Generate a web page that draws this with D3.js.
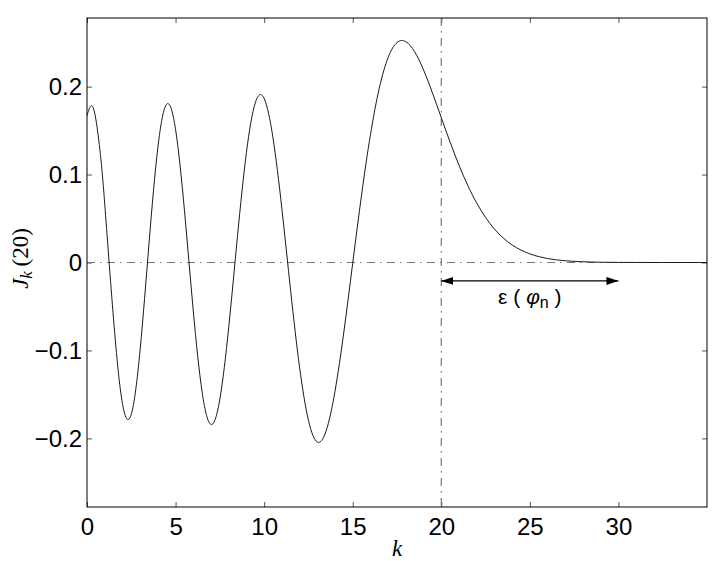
<!DOCTYPE html>
<html>
<head>
<meta charset="utf-8">
<script src="https://cdn.jsdelivr.net/npm/d3@7"></script>
<style>
  html, body { margin: 0; padding: 0; background: #fff; }
  svg { display: block; }
</style>
</head>
<body>
<svg id="chart" width="713" height="561"></svg>
<script>
// ---- data (J_k(20) versus order k) ----
const kValues = [0,0.25,0.5,0.75,1,1.5,2,2.5,3,3.5,4,4.5,5,5.5,6,6.5,7,7.5,8,8.5,9,9.5,
  10,10.5,11,11.5,12,12.5,13,13.5,14,14.5,15,15.5,16,16.5,17,17.5,18,18.5,19,19.5,
  20,20.5,21,21.5,22,22.5,23,23.5,24,24.5,25,25.5,26,26.5,27,27.5,28,28.5,29,29.5,
  30,30.5,31,31.5,32,32.5,33,33.5,34,34.5,35];
const jValues = [0.1670,0.1784,0.1629,0.1240,0.0668,-0.0647,-0.1603,-0.1726,-0.0989,0.0215,0.1307,0.1801,
  0.1512,0.0595,-0.0551,-0.1474,-0.1842,-0.1553,-0.0739,0.0309,0.1251,0.1816,
  0.1865,0.1416,0.0614,-0.0329,-0.1190,-0.1794,-0.2041,-0.1914,-0.1464,-0.0790,
  -0.0008,0.0769,0.1452,0.1982,0.2331,0.2501,0.2511,0.2395,0.2189,0.1929,
  0.1647,0.1368,0.1106,0.0874,0.0676,0.0512,0.0380,0.0278,0.0199,0.0141,
  0.0098,0.0067,0.0045,0.0030,0.0020,0.0013,0.0008,0.0005,0.0003,0.0002,
  0.0001,0.0001,0.00004,0.00002,0.00001,0,0,0,0,0,0];
const xTicks = [0,5,10,15,20,25,30];
const yTicks = [-0.2,-0.1,0,0.1,0.2];
const xDomain = [0, 35];
const yDomain = [-0.278, 0.278];
const markerK = 20;          // vertical dash-dot line
const arrowRange = [20, 30]; // epsilon arrow span
const arrowY = -0.021;

// ---- layout ----
const svg = d3.select("#chart");
const L = 87, R = 707, T = 18, B = 507;
const x = d3.scaleLinear().domain(xDomain).range([L, R]);
const y = d3.scaleLinear().domain(yDomain).range([B, T]);

const tickFont = "'Liberation Sans', Arial, Helvetica, sans-serif";
const serif = "'Liberation Serif', 'Times New Roman', Times, serif";

function styleAxis(g, showText) {
  g.select(".domain").remove();
  g.selectAll(".tick line").attr("stroke", "#555").attr("stroke-width", 1);
  g.selectAll(".tick text")
    .attr("font-family", tickFont).attr("font-size", 24).attr("fill", "#000");
  if (!showText) g.selectAll(".tick text").remove();
}
const fmt = d => d3.format("")(Math.round(d * 10) / 10).replace("-", "\u2212");

svg.append("g").attr("transform", `translate(0,${B})`)
  .call(d3.axisBottom(x).tickValues(xTicks).tickFormat(d3.format("d"))
    .tickSizeInner(-5).tickSizeOuter(0).tickPadding(11))
  .call(g => styleAxis(g, true));
svg.append("g").attr("transform", `translate(0,${T})`)
  .call(d3.axisTop(x).tickValues(xTicks).tickSizeInner(-5).tickSizeOuter(0))
  .call(g => styleAxis(g, false));
svg.append("g").attr("transform", `translate(${L},0)`)
  .call(d3.axisLeft(y).tickValues(yTicks).tickFormat(fmt)
    .tickSizeInner(-5).tickSizeOuter(0).tickPadding(5))
  .call(g => styleAxis(g, true));
svg.append("g").attr("transform", `translate(${R},0)`)
  .call(d3.axisRight(y).tickValues(yTicks).tickSizeInner(-5).tickSizeOuter(0))
  .call(g => styleAxis(g, false));

// dash-dot reference lines
const dash = "8,5,1.5,5.5";
svg.append("line")
  .attr("x1", x(xDomain[0])).attr("x2", x(xDomain[1]))
  .attr("y1", y(0)).attr("y2", y(0))
  .attr("stroke", "#777").attr("stroke-width", 1.2).attr("stroke-dasharray", dash);
svg.append("line")
  .attr("x1", x(markerK)).attr("x2", x(markerK))
  .attr("y1", y(yDomain[1])).attr("y2", y(yDomain[0]))
  .attr("stroke", "#777").attr("stroke-width", 1.2).attr("stroke-dasharray", dash);

// curve
const pts = kValues.map((k, i) => [k, jValues[i]]);
svg.append("path")
  .datum(pts)
  .attr("fill", "none")
  .attr("stroke", "#1a1a1a")
  .attr("stroke-width", 1)
  .attr("d", d3.line().x(d => x(d[0])).y(d => y(d[1])).curve(d3.curveNatural));

// box
svg.append("rect")
  .attr("x", L).attr("y", T).attr("width", R - L).attr("height", B - T)
  .attr("fill", "none").attr("stroke", "#000").attr("stroke-width", 1);

// arrow with heads on both ends
const defs = svg.append("defs");
defs.append("marker").attr("id", "ah").attr("viewBox", "0 0 12 8")
  .attr("refX", 12).attr("refY", 4).attr("markerWidth", 12).attr("markerHeight", 8)
  .attr("markerUnits", "userSpaceOnUse").attr("orient", "auto-start-reverse")
  .append("path").attr("d", "M0,0 L12,4 L0,8 Z").attr("fill", "#000");
svg.append("line")
  .attr("x1", x(arrowRange[0])).attr("x2", x(arrowRange[1]))
  .attr("y1", y(arrowY)).attr("y2", y(arrowY))
  .attr("stroke", "#000").attr("stroke-width", 1.3)
  .attr("marker-start", "url(#ah)").attr("marker-end", "url(#ah)");

// epsilon label
const eps = svg.append("text")
  .attr("x", x((arrowRange[0] + arrowRange[1]) / 2)).attr("y", 304)
  .attr("text-anchor", "middle")
  .attr("font-family", tickFont).attr("font-size", 21).attr("fill", "#000");
eps.append("tspan").text("\u03b5 ( ");
eps.append("tspan").attr("font-style", "italic").text("\u03c6");
eps.append("tspan").attr("font-size", 16).attr("dy", 4).text("n");
eps.append("tspan").attr("dy", -4).text(" )");

// axis titles
svg.append("text")
  .attr("x", (L + R) / 2).attr("y", 556)
  .attr("text-anchor", "middle")
  .attr("font-family", serif).attr("font-style", "italic").attr("font-size", 23)
  .text("k");

const yl = svg.append("text")
  .attr("transform", `translate(28,${(T + B) / 2 - 4}) rotate(-90)`)
  .attr("text-anchor", "middle")
  .attr("font-family", serif).attr("font-size", 23).attr("fill", "#000");
yl.append("tspan").attr("font-style", "italic").text("J");
yl.append("tspan").attr("font-style", "italic").attr("font-size", 17).attr("dy", 4).text("k");
yl.append("tspan").attr("dy", -4).text("\u2009(20)");
</script>
</body>
</html>
